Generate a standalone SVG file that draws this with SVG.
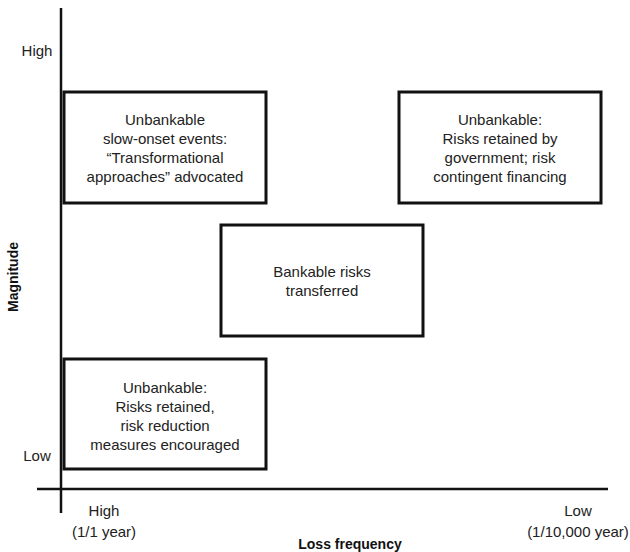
<svg xmlns="http://www.w3.org/2000/svg" width="630" height="552" viewBox="0 0 630 552">
<style>
text{font-family:"Liberation Sans",Arial,sans-serif;fill:#222;}
.t{font-size:15px;text-anchor:middle;}
.b{font-size:14px;font-weight:bold;text-anchor:middle;fill:#111;}
.box{fill:#fff;stroke:#111;stroke-width:3;}
.ax{stroke:#111;stroke-width:2.5;fill:none;}
</style>
<rect width="630" height="552" fill="#fff"/>
<g id="axes">
<line class="ax" x1="61" y1="8" x2="61" y2="513"/>
<line class="ax" x1="37" y1="489" x2="608" y2="489"/>
</g>
<g id="axis-labels">
<text class="t" x="37" y="56">High</text>
<text class="t" x="37" y="461">Low</text>
<text class="b" transform="translate(18,277) rotate(-90)">Magnitude</text>
<text class="t" x="104" y="516">High</text>
<text class="t" x="104" y="537">(1/1 year)</text>
<text class="t" x="578" y="516">Low</text>
<text class="t" x="578" y="537">(1/10,000 year)</text>
<text class="b" x="350" y="549">Loss frequency</text>
</g>
<g id="connectors"></g>
<g id="box-slow-onset">
<rect class="box" x="64" y="92" width="202" height="111"/>
<text class="t" x="165" y="125">Unbankable</text>
<text class="t" x="165" y="144">slow-onset events:</text>
<text class="t" x="165" y="163">“Transformational</text>
<text class="t" x="165" y="182">approaches” advocated</text>
</g>
<g id="box-government">
<rect class="box" x="399" y="92" width="202" height="111"/>
<text class="t" x="500" y="125">Unbankable:</text>
<text class="t" x="500" y="144">Risks retained by</text>
<text class="t" x="500" y="163">government; risk</text>
<text class="t" x="500" y="182">contingent financing</text>
</g>
<g id="box-bankable">
<rect class="box" x="221" y="225" width="202" height="111"/>
<text class="t" x="322" y="277">Bankable risks</text>
<text class="t" x="322" y="296">transferred</text>
</g>
<g id="box-retained">
<rect class="box" x="64" y="359" width="202" height="110"/>
<text class="t" x="165" y="393">Unbankable:</text>
<text class="t" x="165" y="412">Risks retained,</text>
<text class="t" x="165" y="431">risk reduction</text>
<text class="t" x="165" y="450">measures encouraged</text>
</g>
</svg>
